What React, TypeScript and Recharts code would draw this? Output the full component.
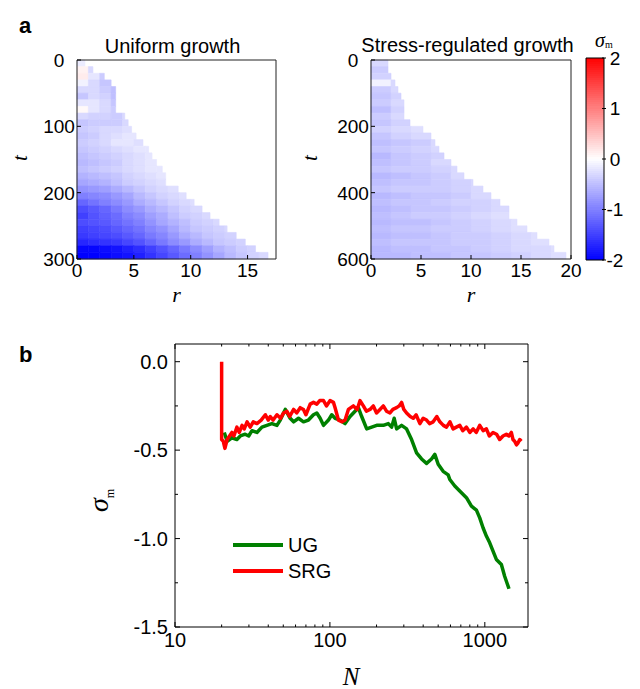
import React from "react"
import { ComposedChart, Line, XAxis, YAxis, ReferenceArea } from "recharts"

// ---- panel a: uniform growth (rows of 10 time units, columns of 1 r unit)
const UG_T_STEP = 10
const UG_R_STEP = 1
const UG_FRONT = [0.7, 1.4, 2.4, 3.0, 3.4, 3.4, 3.4, 3.4, 4.2, 4.5, 4.8, 5.2, 5.8, 6.3, 6.6, 7.0, 7.5, 7.8, 7.8, 8.9, 9.6, 10.3, 11.0, 11.7, 12.5, 13.2, 14.0, 14.8, 15.7, 16.8]
const UG_ROWS = [
  [-0.15],
  [0.1, -0.3],
  [0.15, -0.2, -0.4],
  [-0.1, -0.3, -0.45],
  [-0.3, -0.3, -0.4, -0.5],
  [-0.45, -0.3, -0.35, -0.5],
  [-0.2, -0.2, -0.3, -0.45],
  [0.05, -0.2, -0.3, -0.4],
  [-0.3, -0.35, -0.35, -0.4, -0.3],
  [-0.45, -0.4, -0.4, -0.4, -0.3],
  [-0.4, -0.35, -0.3, -0.3, -0.25],
  [-0.45, -0.4, -0.3, -0.25, -0.2, -0.2],
  [-0.4, -0.35, -0.3, -0.2, -0.2, -0.25],
  [-0.45, -0.4, -0.35, -0.3, -0.25, -0.2, -0.2],
  [-0.5, -0.45, -0.4, -0.35, -0.3, -0.25, -0.2],
  [-0.55, -0.5, -0.45, -0.4, -0.3, -0.25, -0.2],
  [-0.5, -0.45, -0.4, -0.35, -0.3, -0.25, -0.2, -0.2],
  [-0.6, -0.55, -0.5, -0.45, -0.35, -0.3, -0.25, -0.2],
  [-0.7, -0.65, -0.6, -0.5, -0.4, -0.35, -0.3, -0.25],
  [-0.85, -0.8, -0.75, -0.65, -0.55, -0.45, -0.35, -0.3, -0.25],
  [-1.0, -0.95, -0.9, -0.8, -0.7, -0.55, -0.45, -0.35, -0.3, -0.25],
  [-1.2, -1.1, -1.0, -0.9, -0.8, -0.65, -0.55, -0.45, -0.35, -0.3, -0.25],
  [-1.4, -1.3, -1.2, -1.05, -0.9, -0.8, -0.65, -0.55, -0.45, -0.35, -0.3],
  [-1.5, -1.35, -1.25, -1.15, -1.0, -0.9, -0.75, -0.65, -0.5, -0.4, -0.35, -0.3],
  [-1.4, -1.35, -1.3, -1.2, -1.1, -1.0, -0.85, -0.7, -0.6, -0.5, -0.4, -0.35, -0.3],
  [-1.5, -1.45, -1.4, -1.3, -1.2, -1.1, -0.95, -0.85, -0.7, -0.55, -0.45, -0.4, -0.35, -0.3],
  [-1.55, -1.5, -1.45, -1.4, -1.3, -1.2, -1.05, -0.95, -0.8, -0.65, -0.55, -0.45, -0.4, -0.35],
  [-1.7, -1.65, -1.6, -1.55, -1.45, -1.35, -1.2, -1.05, -0.9, -0.8, -0.65, -0.55, -0.45, -0.4, -0.35],
  [-1.95, -1.95, -1.9, -1.85, -1.75, -1.65, -1.5, -1.35, -1.2, -1.05, -0.9, -0.75, -0.6, -0.5, -0.4, -0.35],
  [-2.0, -2.0, -1.95, -1.9, -1.85, -1.75, -1.6, -1.45, -1.3, -1.15, -1.0, -0.85, -0.7, -0.55, -0.45, -0.35, -0.3],
]

// ---- panel a: stress-regulated growth (rows of 20 time units, columns of 2 r units)
const SRG_T_STEP = 20
const SRG_R_STEP = 2
const SRG_FRONT = [1.7, 1.7, 2.0, 2.4, 2.7, 3.0, 3.3, 3.3, 3.3, 3.9, 5.2, 6.0, 6.4, 6.8, 7.3, 8.0, 8.6, 9.3, 10.2, 11.2, 12.0, 12.9, 13.8, 13.8, 14.6, 15.6, 16.6, 17.8, 18.3, 19.5]
const SRG_ROWS = [
  [-0.3],
  [-0.4],
  [-0.35],
  [-0.1, -0.3],
  [-0.4, -0.3],
  [-0.45, -0.35],
  [-0.4, -0.3],
  [-0.5, -0.35],
  [-0.4, -0.3],
  [-0.45, -0.35],
  [-0.35, -0.3, -0.25],
  [-0.45, -0.35, -0.3],
  [-0.5, -0.45, -0.4, -0.3],
  [-0.45, -0.4, -0.35, -0.3],
  [-0.55, -0.45, -0.4, -0.35],
  [-0.5, -0.45, -0.4, -0.3],
  [-0.45, -0.4, -0.4, -0.35, -0.3],
  [-0.55, -0.5, -0.45, -0.4, -0.3],
  [-0.5, -0.45, -0.45, -0.4, -0.35, -0.3],
  [-0.45, -0.4, -0.4, -0.4, -0.35, -0.3],
  [-0.55, -0.5, -0.45, -0.45, -0.4, -0.3],
  [-0.5, -0.45, -0.45, -0.4, -0.35, -0.35, -0.3],
  [-0.55, -0.5, -0.45, -0.45, -0.4, -0.35, -0.3],
  [-0.5, -0.45, -0.4, -0.4, -0.35, -0.3, -0.25],
  [-0.55, -0.5, -0.5, -0.45, -0.4, -0.35, -0.3, -0.25],
  [-0.5, -0.45, -0.45, -0.4, -0.4, -0.35, -0.3, -0.25],
  [-0.55, -0.5, -0.5, -0.45, -0.4, -0.4, -0.35, -0.3, -0.25],
  [-0.5, -0.45, -0.45, -0.45, -0.4, -0.4, -0.35, -0.3, -0.25],
  [-0.55, -0.5, -0.5, -0.45, -0.45, -0.4, -0.35, -0.3, -0.3, -0.25],
  [-0.55, -0.55, -0.5, -0.5, -0.45, -0.45, -0.4, -0.35, -0.3, -0.25],
]

const UG_T_TICKS = [0, 100, 200, 300]
const UG_R_TICKS = [0, 5, 10, 15]
const SRG_T_TICKS = [0, 200, 400, 600]
const SRG_R_TICKS = [0, 5, 10, 15, 20]
const CBAR_TICKS = [-2, -1, 0, 1, 2]

// ---- panel b
const UG_N = [20.8, 21.7, 23.3, 25.1, 26.4, 28.4, 29.9, 31.4, 33.8, 36.4, 39.2, 42.2, 45.5, 47.8, 50.2, 51.5, 55.4, 58.3, 62.7, 67.5, 72.7, 78.3, 82.3, 86.5, 90.9, 97.9, 102.8, 108, 116.3, 125.3, 134.9, 145.3, 152.6, 160.4, 172.8, 186.1, 200.4, 221.2, 238.2, 250.3, 260, 269.6, 290.2, 312.6, 336.7, 362.6, 390.5, 420.6, 452.9, 475.8, 500, 538.3, 579.9, 594.3, 640, 706.6, 761, 819.6, 882.6, 927.3, 974, 1023.6, 1075.5, 1129.8, 1187, 1279, 1343, 1432]
const UG_SIGMA = [-0.40, -0.45, -0.43, -0.44, -0.42, -0.41, -0.42, -0.39, -0.40, -0.37, -0.36, -0.35, -0.36, -0.33, -0.29, -0.27, -0.32, -0.34, -0.32, -0.34, -0.33, -0.30, -0.29, -0.32, -0.36, -0.33, -0.30, -0.32, -0.33, -0.35, -0.31, -0.28, -0.26, -0.31, -0.38, -0.37, -0.36, -0.36, -0.35, -0.37, -0.32, -0.38, -0.36, -0.38, -0.44, -0.515, -0.55, -0.575, -0.55, -0.524, -0.58, -0.62, -0.64, -0.666, -0.703, -0.741, -0.769, -0.817, -0.839, -0.883, -0.939, -0.986, -1.024, -1.071, -1.118, -1.147, -1.213, -1.284]
const SRG_N = [20, 20, 20.5, 21, 21.7, 22.5, 23.3, 24, 25.1, 26, 27.1, 28, 29.2, 30.6, 32, 33.8, 36, 38.3, 40, 41.2, 43, 45.5, 48, 50.2, 52.8, 55, 58.3, 61, 64.3, 67.5, 70, 74.6, 78.3, 82.3, 86, 90.9, 95, 100.3, 105.4, 108, 113.5, 120, 125.3, 131.6, 141.8, 150, 156.5, 164.4, 172, 181.5, 190.7, 200, 210.5, 221.2, 232, 244.2, 255, 269.6, 280, 290.2, 300, 312.6, 330, 345.1, 360, 381, 400, 420.6, 440, 464.2, 490, 512.5, 540, 565.7, 595, 624.5, 655, 689.3, 720, 761.1, 800, 840.2, 880, 927.3, 975, 1023.6, 1070, 1129.8, 1190, 1247, 1310, 1377, 1430, 1483, 1520, 1558, 1600, 1637, 1680, 1720]
const SRG_SIGMA = [0.0, -0.44, -0.45, -0.49, -0.44, -0.42, -0.40, -0.42, -0.37, -0.40, -0.36, -0.38, -0.34, -0.37, -0.34, -0.35, -0.33, -0.30, -0.33, -0.31, -0.33, -0.30, -0.32, -0.29, -0.28, -0.31, -0.27, -0.29, -0.26, -0.27, -0.30, -0.24, -0.23, -0.24, -0.22, -0.22, -0.25, -0.22, -0.23, -0.26, -0.33, -0.34, -0.33, -0.27, -0.25, -0.27, -0.22, -0.25, -0.28, -0.27, -0.25, -0.29, -0.27, -0.25, -0.28, -0.29, -0.27, -0.26, -0.25, -0.23, -0.27, -0.29, -0.31, -0.32, -0.30, -0.35, -0.32, -0.33, -0.35, -0.34, -0.31, -0.34, -0.36, -0.37, -0.34, -0.38, -0.37, -0.36, -0.39, -0.37, -0.40, -0.38, -0.40, -0.36, -0.39, -0.38, -0.42, -0.40, -0.41, -0.44, -0.42, -0.41, -0.42, -0.40, -0.44, -0.45, -0.47, -0.46, -0.44, -0.45]

const N_TICKS = [10, 20, 30, 40, 50, 60, 70, 80, 90, 100, 200, 300, 400, 500, 600, 700, 800, 900, 1000]
const N_MAJOR = [10, 100, 1000]
const SIGMA_TICKS = [0, -0.25, -0.5, -0.75, -1, -1.25, -1.5]
const SIGMA_MAJOR = [0, -0.5, -1, -1.5]

const SERIES = [
  { name: "UG", color: "#008000" },
  { name: "SRG", color: "#ff0000" },
]

const AXIS = "#000"
const FRAME = "#222"
const SANS = '"Liberation Sans", Arial, Helvetica, sans-serif'
const SERIF = '"Liberation Serif", "Times New Roman", serif'

// blue-white-red colour map on [-2, 2]
function bwr(v: number) {
  const c = Math.max(-2, Math.min(2, v)) / 2
  if (c < 0) {
    const k = Math.round(255 * (1 + c))
    return `rgb(${k},${k},255)`
  }
  const k = Math.round(255 * (1 - c))
  return `rgb(255,${k},${k})`
}

type HeatCell = { r0: number; r1: number; t0: number; t1: number; v: number }

function buildCells(rows: number[][], front: number[], tStep: number, rStep: number) {
  const cells: HeatCell[] = []
  rows.forEach((row, i) => {
    row.forEach((v, j) => {
      const r0 = j * rStep
      const r1 = Math.min((j + 1) * rStep, front[i])
      if (r1 > r0) cells.push({ r0, r1, t0: i * tStep, t1: (i + 1) * tStep, v })
    })
  })
  return cells
}

const ugCells = buildCells(UG_ROWS, UG_FRONT, UG_T_STEP, UG_R_STEP)
const srgCells = buildCells(SRG_ROWS, SRG_FRONT, SRG_T_STEP, SRG_R_STEP)

// colour bar drawn as thin overlapping bands of the colour map
const CBAR_BAND = 0.04
const cbarBands = Array.from({ length: Math.round(4 / CBAR_BAND) }, (_, i) => -2 + i * CBAR_BAND)

const seriesData = SERIES.map((s, k) => {
  const xs = k === 0 ? UG_N : SRG_N
  const ys = k === 0 ? UG_SIGMA : SRG_SIGMA
  return { ...s, data: xs.map((N, i) => ({ N, s: ys[i] })) }
})

// heatmap ticks
const heatLeftTick = (p: any) => (
  <g>
    <line x1={p.x} x2={p.x + 4} y1={p.y} y2={p.y} stroke={AXIS} />
    <text x={p.x - 18} y={p.y} dy="0.36em" textAnchor="middle" fontSize={19} fontFamily={SANS} fill="#000">
      {p.payload.value}
    </text>
  </g>
)
const heatBottomTick = (p: any) => (
  <g>
    <line x1={p.x} x2={p.x} y1={p.y} y2={p.y - 4} stroke={AXIS} />
    <text x={p.x} y={p.y + 18} textAnchor="middle" fontSize={19} fontFamily={SANS} fill="#000">
      {p.payload.value}
    </text>
  </g>
)
const cbarTick = (p: any) => (
  <g>
    <line x1={p.x - 2} x2={p.x + 2} y1={p.y} y2={p.y} stroke={AXIS} />
    <text x={p.x + 11} y={p.y} dy="0.36em" textAnchor="middle" fontSize={19} fontFamily={SANS} fill="#000">
      {p.payload.value}
    </text>
  </g>
)

// panel b ticks (inward, minor ticks shorter)
const nBottomTick = (p: any) => {
  const maj = N_MAJOR.includes(p.payload.value)
  return (
    <g>
      <line x1={p.x} x2={p.x} y1={p.y} y2={p.y - (maj ? 5 : 2.5)} stroke={AXIS} />
      {maj && (
        <text x={p.x} y={p.y + 20} textAnchor="middle" fontSize={20} fontFamily={SANS} fill="#000">
          {p.payload.value}
        </text>
      )}
    </g>
  )
}
const nTopTick = (p: any) => {
  const maj = N_MAJOR.includes(p.payload.value)
  return <line x1={p.x} x2={p.x} y1={p.y} y2={p.y + (maj ? 5 : 2.5)} stroke={AXIS} />
}
const sLeftTick = (p: any) => {
  const maj = SIGMA_MAJOR.includes(p.payload.value)
  return (
    <g>
      <line x1={p.x} x2={p.x + (maj ? 5 : 3)} y1={p.y} y2={p.y} stroke={AXIS} />
      {maj && (
        <text x={p.x - 7} y={p.y} dy="0.36em" textAnchor="end" fontSize={20} fontFamily={SANS} fill="#000">
          {p.payload.value.toFixed(1)}
        </text>
      )}
    </g>
  )
}
const sRightTick = (p: any) => {
  const maj = SIGMA_MAJOR.includes(p.payload.value)
  return <line x1={p.x} x2={p.x - (maj ? 5 : 3)} y1={p.y} y2={p.y} stroke={AXIS} />
}

function Heatmap({ cells, rMax, tMax, rTicks, tTicks, width, margin }: any) {
  return (
    <ComposedChart width={width} height={320} margin={margin}>
      <XAxis type="number" dataKey="r" domain={[0, rMax]} allowDataOverflow ticks={rTicks} interval={0}
        height={30} tickSize={0} tickMargin={0} axisLine={{ stroke: FRAME }} tickLine={false} tick={heatBottomTick} />
      <XAxis xAxisId="top" orientation="top" type="number" domain={[0, rMax]} allowDataOverflow height={1}
        axisLine={{ stroke: FRAME }} tick={false} tickLine={false} />
      <YAxis type="number" dataKey="t" domain={[0, tMax]} allowDataOverflow reversed ticks={tTicks} interval={0}
        width={60} tickSize={0} tickMargin={0} axisLine={{ stroke: FRAME }} tickLine={false} tick={heatLeftTick} />
      <YAxis yAxisId="right" orientation="right" type="number" domain={[0, tMax]} allowDataOverflow width={1}
        axisLine={{ stroke: FRAME }} tick={false} tickLine={false} />
      {cells.map((c: HeatCell, i: number) => (
        <ReferenceArea key={i} x1={c.r0} x2={c.r1} y1={c.t0} y2={c.t1} fill={bwr(c.v)} fillOpacity={1}
          stroke={bwr(c.v)} strokeWidth={0.6} ifOverflow="visible" />
      ))}
    </ComposedChart>
  )
}

export default function App() {
  return (
    <div style={{ position: "absolute", left: 0, top: 0, width: 640, height: 689, background: "#fff", fontFamily: SANS }}>
      <div style={{ position: "absolute", left: 0, top: 0 }}>
        <Heatmap cells={ugCells} rMax={17.5} tMax={300} rTicks={UG_R_TICKS} tTicks={UG_T_TICKS} width={300}
          margin={{ top: 59, left: 17, right: 23, bottom: 31 }} />
      </div>
      <div style={{ position: "absolute", left: 300, top: 0 }}>
        <Heatmap cells={srgCells} rMax={20} tMax={600} rTicks={SRG_R_TICKS} tTicks={SRG_T_TICKS} width={290}
          margin={{ top: 59, left: 11, right: 18, bottom: 31 }} />
      </div>
      <div style={{ position: "absolute", left: 570, top: 0 }}>
        <ComposedChart width={70} height={320} margin={{ top: 57, left: 15, right: 0, bottom: 59 }}>
          <XAxis type="number" dataKey="c" domain={[0, 1]} allowDataOverflow height={1} axisLine={{ stroke: AXIS }} tick={false} tickLine={false} />
          <XAxis xAxisId="top" orientation="top" type="number" domain={[0, 1]} allowDataOverflow height={1}
            axisLine={{ stroke: AXIS }} tick={false} tickLine={false} />
          <YAxis yAxisId="left" type="number" domain={[-2, 2]} allowDataOverflow width={1}
            axisLine={{ stroke: AXIS }} tick={false} tickLine={false} />
          <YAxis type="number" dataKey="v" orientation="right" domain={[-2, 2]} allowDataOverflow ticks={CBAR_TICKS} interval={0}
            width={36} tickSize={0} tickMargin={0} axisLine={{ stroke: AXIS }} tickLine={false} tick={cbarTick} />
          {cbarBands.map((b, i) => (
            <ReferenceArea key={i} x1={0.001} x2={0.999} y1={b} y2={Math.min(2, b + CBAR_BAND * 1.6)}
              fill={bwr(b + CBAR_BAND / 2)} fillOpacity={1} stroke="none" shapeRendering="crispEdges" ifOverflow="visible" />
          ))}
        </ComposedChart>
      </div>
      <div style={{ position: "absolute", left: 0, top: 320 }}>
        <ComposedChart width={640} height={369} margin={{ top: 14, left: 115, right: 102, bottom: 32 }}>
          <XAxis type="number" dataKey="N" scale="log" domain={[10, 1900]} allowDataOverflow ticks={N_TICKS} interval={0}
            height={30} tickSize={0} tickMargin={0} axisLine={{ stroke: AXIS }} tickLine={false} tick={nBottomTick} />
          <XAxis xAxisId="top" orientation="top" type="number" dataKey="N" scale="log" domain={[10, 1900]} allowDataOverflow
            ticks={N_TICKS} interval={0} height={10} tickSize={0} tickMargin={0} axisLine={{ stroke: AXIS }} tickLine={false} tick={nTopTick} />
          <YAxis type="number" domain={[-1.5, 0.1]} allowDataOverflow ticks={SIGMA_TICKS} interval={0}
            width={60} tickSize={0} tickMargin={0} axisLine={{ stroke: AXIS }} tickLine={false} tick={sLeftTick} />
          <YAxis yAxisId="right" orientation="right" type="number" domain={[-1.5, 0.1]} allowDataOverflow ticks={SIGMA_TICKS}
            interval={0} width={10} tickSize={0} tickMargin={0} axisLine={{ stroke: AXIS }} tickLine={false} tick={sRightTick} />
          {seriesData.map((s) => (
            <Line key={s.name} data={s.data} dataKey="s" name={s.name} type="linear" stroke={s.color} strokeWidth={3.5}
              strokeLinejoin="round" dot={false} activeDot={false} isAnimationActive={false} />
          ))}
        </ComposedChart>
      </div>
      {/* legend */}
      {SERIES.map((s, i) => (
        <div key={s.name} style={{ position: "absolute", left: 233, top: 533 + i * 26, height: 24, display: "flex", alignItems: "center" }}>
          <div style={{ width: 50, height: 4, background: s.color }} />
          <span style={{ marginLeft: 5, fontSize: 20, color: "#000", fontFamily: SANS }}>{s.name}</span>
        </div>
      ))}
      {/* labels */}
      <svg width={640} height={689} style={{ position: "absolute", left: 0, top: 0, pointerEvents: "none" }}>
        <text x={19} y={33} fontSize={22} fontWeight="bold" fontFamily={SANS}>a</text>
        <text x={19} y={362} fontSize={22} fontWeight="bold" fontFamily={SANS}>b</text>
        <text x={172.5} y={53} fontSize={20} textAnchor="middle" fontFamily={SANS}>Uniform growth</text>
        <text x={467.5} y={52} fontSize={20} textAnchor="middle" fontFamily={SANS}>Stress-regulated growth</text>
        <text transform="translate(27,158) rotate(-90)" fontSize={21} fontStyle="italic" textAnchor="middle" fontFamily={SERIF}>t</text>
        <text transform="translate(317,158) rotate(-90)" fontSize={21} fontStyle="italic" textAnchor="middle" fontFamily={SERIF}>t</text>
        <text x={176.5} y={302} fontSize={22} fontStyle="italic" textAnchor="middle" fontFamily={SERIF}>r</text>
        <text x={471} y={302} fontSize={22} fontStyle="italic" textAnchor="middle" fontFamily={SERIF}>r</text>
        <text x={595} y={47} fontSize={20} fontStyle="italic" fontFamily={SERIF}>
          σ<tspan fontStyle="normal" fontSize={10} dy={1}>m</tspan>
        </text>
        <text transform="translate(108,512) rotate(-90)" fontSize={28} fontStyle="italic" fontFamily={SERIF}>
          σ<tspan fontStyle="normal" fontSize={12} dy={6}>m</tspan>
        </text>
        <text x={351} y={685} fontSize={25} fontStyle="italic" textAnchor="middle" fontFamily={SERIF}>N</text>
      </svg>
    </div>
  )
}
